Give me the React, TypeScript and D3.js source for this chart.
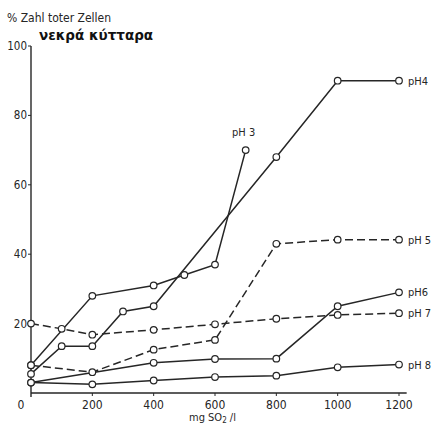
import React, { useEffect, useRef } from "react";
import * as d3 from "d3";

// mg SO2 / l
const doseTicks = [200, 400, 600, 800, 1000, 1200];
const pctTicks = [20, 40, 60, 80, 100];

const ph3X = [0, 200, 400, 500, 600, 700];
const ph3Y = [8, 28, 31, 34, 37, 70];
const ph4X = [0, 100, 200, 300, 400, 800, 1000, 1200];
const ph4Y = [5.5, 13.5, 13.5, 23.5, 25, 68, 90, 90];
const ph5X = [0, 200, 400, 600, 800, 1000, 1200];
const ph5Y = [8, 6, 12.5, 15.3, 43, 44.2, 44.2];
const ph6X = [0, 400, 600, 800, 1000, 1200];
const ph6Y = [3, 8.7, 9.8, 9.9, 25, 29];
const ph7X = [0, 100, 200, 400, 600, 800, 1000, 1200];
const ph7Y = [20, 18.5, 16.8, 18.2, 19.8, 21.4, 22.5, 23];
const ph8X = [0, 200, 400, 600, 800, 1000, 1200];
const ph8Y = [3, 2.5, 3.6, 4.6, 5, 7.4, 8.2];

const series = [
    { name: "pH 3", xs: ph3X, ys: ph3Y, dashed: false },
    { name: "pH4", xs: ph4X, ys: ph4Y, dashed: false },
    { name: "pH 5", xs: ph5X, ys: ph5Y, dashed: true },
    { name: "pH6", xs: ph6X, ys: ph6Y, dashed: false },
    { name: "pH 7", xs: ph7X, ys: ph7Y, dashed: true },
    { name: "pH 8", xs: ph8X, ys: ph8Y, dashed: false },
];

const INK = "#262626";
const FONT = "'DejaVu Sans Condensed', 'DejaVu Sans', sans-serif";

const App: React.FC = () => {
    const svgRef = useRef<SVGSVGElement>(null);

    useEffect(() => {
        if (!svgRef.current) return;
        document.body.style.margin = "0";
        const svg = d3.select(svgRef.current);
        svg.selectAll("*").remove();

        const x = d3.scaleLinear().domain([0, 1200]).range([31, 399]);
        const y = d3.scaleLinear().domain([0, 100]).range([393, 46]);

        svg.append("rect").attr("width", 433).attr("height", 428).attr("fill", "#fff");

        // Achsen
        svg.append("line")
            .attr("x1", x(0)).attr("x2", x(1225))
            .attr("y1", y(0)).attr("y2", y(0))
            .attr("stroke", INK).attr("stroke-width", 1.4);
        svg.append("line")
            .attr("x1", x(0)).attr("x2", x(0))
            .attr("y1", y(0) + 4).attr("y2", y(100))
            .attr("stroke", INK).attr("stroke-width", 1.4);

        const xt = svg.append("g").selectAll("g").data(doseTicks).enter().append("g");
        xt.append("line")
            .attr("x1", (d) => x(d)).attr("x2", (d) => x(d))
            .attr("y1", y(0)).attr("y2", y(0) + 3)
            .attr("stroke", INK).attr("stroke-width", 1);
        xt.append("text")
            .attr("x", (d) => x(d)).attr("y", y(0) + 16)
            .attr("text-anchor", "middle")
            .attr("font-family", FONT).attr("font-size", "12px").attr("fill", INK)
            .text((d) => String(d));

        svg.append("text")
            .attr("x", 21).attr("y", y(0) + 16)
            .attr("text-anchor", "middle")
            .attr("font-family", FONT).attr("font-size", "12px").attr("fill", INK)
            .text("0");

        const yt = svg.append("g").selectAll("g").data(pctTicks).enter().append("g");
        yt.append("line")
            .attr("x1", x(0) - 3).attr("x2", x(0))
            .attr("y1", (d) => y(d)).attr("y2", (d) => y(d))
            .attr("stroke", INK).attr("stroke-width", 1);
        yt.append("text")
            .attr("x", x(0) - 4).attr("y", (d) => y(d) + 4)
            .attr("text-anchor", "end")
            .attr("font-family", FONT).attr("font-size", "11.5px").attr("fill", INK)
            .text((d) => String(d));

        // Titel
        svg.append("text")
            .attr("x", 7).attr("y", 22)
            .attr("font-family", FONT).attr("font-size", "12px").attr("fill", INK)
            .text("% Zahl toter Zellen");
        svg.append("text")
            .attr("x", 39).attr("y", 40)
            .attr("font-family", "'DejaVu Sans', sans-serif").attr("font-size", "13.5px")
            .attr("font-weight", "bold").attr("fill", "#111")
            .text("νεκρά κύτταρα");

        const xl = svg.append("text")
            .attr("x", 189).attr("y", 421)
            .attr("font-family", FONT).attr("font-size", "11px").attr("fill", INK);
        xl.append("tspan").text("mg SO");
        xl.append("tspan").attr("font-size", "8px").attr("dy", 2).text("2");
        xl.append("tspan").attr("dy", -2).text(" /l");

        // Kurven
        const line = d3.line<[number, number]>()
            .x((d) => x(d[0]))
            .y((d) => y(d[1]));

        series.forEach((s) => {
            const pts = s.xs.map((v, i) => [v, s.ys[i]] as [number, number]);
            svg.append("path")
                .datum(pts)
                .attr("fill", "none")
                .attr("stroke", INK)
                .attr("stroke-width", 1.5)
                .attr("stroke-dasharray", s.dashed ? "8 4" : null)
                .attr("d", line);
        });

        series.forEach((s) => {
            svg.append("g").selectAll("circle")
                .data(s.xs.map((v, i) => [v, s.ys[i]]))
                .enter()
                .append("circle")
                .attr("cx", (d) => x(d[0]))
                .attr("cy", (d) => y(d[1]))
                .attr("r", 3.3)
                .attr("fill", "#fff")
                .attr("stroke", INK)
                .attr("stroke-width", 1.2);
        });

        // Beschriftung der Kurven
        series.forEach((s) => {
            const n = s.xs.length - 1;
            const isPh3 = s.name === "pH 3";
            svg.append("text")
                .attr("x", isPh3 ? x(s.xs[n]) - 2 : x(s.xs[n]) + 9)
                .attr("y", isPh3 ? y(s.ys[n]) - 14 : y(s.ys[n]) + 4)
                .attr("text-anchor", isPh3 ? "middle" : "start")
                .attr("font-family", FONT).attr("font-size", "11px").attr("fill", INK)
                .text(s.name);
        });
    }, []);

    return <svg ref={svgRef} width={433} height={428} style={{ display: "block" }} />;
};

export default App;
